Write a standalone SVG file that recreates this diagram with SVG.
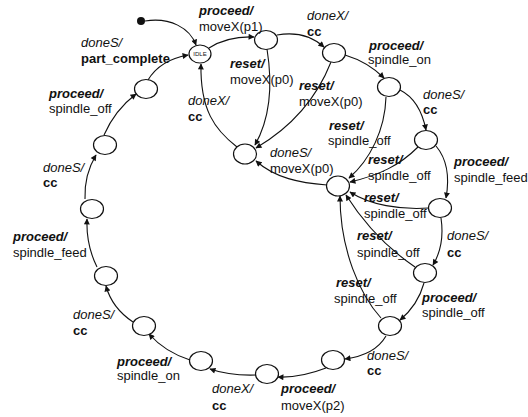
<svg xmlns="http://www.w3.org/2000/svg" width="528" height="417" viewBox="0 0 528 417">
<style>
.n{fill:#fff;stroke:#111;stroke-width:1.2}
.e{fill:none;stroke:#111;stroke-width:1.1;marker-end:url(#ah)}
text{font-family:"Liberation Sans",Arial,sans-serif;font-size:13px;fill:#111}
.bi{font-weight:bold;font-style:italic}
.i{font-style:italic}
.b{font-weight:bold}
.idle{font-size:6px;text-anchor:middle}
</style>
<defs>
<marker id="ah" viewBox="0 0 10 10" refX="9" refY="5" markerWidth="7" markerHeight="6" markerUnits="userSpaceOnUse" orient="auto">
<path d="M0,0 L10,5 L0,10 z" fill="#111"/>
</marker>
</defs>
<rect width="528" height="417" fill="#fff"/>
<g id="connectors">
<path class="e" d="M145 21 C170 17,190 28,196 45"/>
<path class="e" d="M209 48 Q228 36,254 37"/>
<path class="e" d="M277 35 Q305 30,324 47"/>
<path class="e" d="M345 55 Q368 62,384 78"/>
<path class="e" d="M400 90 Q420 100,426 130"/>
<path class="e" d="M436 146 Q452 165,446 198"/>
<path class="e" d="M441 218 Q445 245,433 265"/>
<path class="e" d="M424 283 Q418 305,400 320"/>
<path class="e" d="M386 336 Q375 355,345 359"/>
<path class="e" d="M326 368 Q300 378,278 377"/>
<path class="e" d="M257 375 Q230 376,210 369"/>
<path class="e" d="M190 360 Q165 352,149 334"/>
<path class="e" d="M133 322 Q112 308,106 286"/>
<path class="e" d="M97 267 Q86 245,87 219"/>
<path class="e" d="M85 199 Q84 175,96 155"/>
<path class="e" d="M104 135 Q115 110,136 94"/>
<path class="e" d="M148 80 Q160 60,188 55"/>
<path class="e" d="M267 49 C272 80,272 115,255 145"/>
<path class="e" d="M331 62 C318 95,295 125,256 148"/>
<path class="e" d="M237 147 C215 130,200 110,201 64"/>
<path class="e" d="M327 185 C300 183,275 178,256 161"/>
<path class="e" d="M386 97 C385 130,370 160,349 178"/>
<path class="e" d="M418 147 C400 165,380 175,350 182"/>
<path class="e" d="M429 208 C400 210,370 205,350 192"/>
<path class="e" d="M415 267 C390 250,365 225,346 195"/>
<path class="e" d="M381 318 C360 295,340 250,340 196"/>
</g>
<g id="init"><circle cx="141" cy="21" r="4" fill="#111"/></g>
<g id="IDLE"><ellipse class="n" cx="200" cy="54" rx="11" ry="9"/><text class="idle" x="200" y="56">IDLE</text></g>
<g id="A"><ellipse class="n" cx="266" cy="40" rx="11.5" ry="9.5"/></g>
<g id="B"><ellipse class="n" cx="334" cy="53" rx="11.5" ry="9.5"/></g>
<g id="C"><ellipse class="n" cx="389" cy="87" rx="11.5" ry="9.5"/></g>
<g id="D"><ellipse class="n" cx="426" cy="140" rx="11.5" ry="9.5"/></g>
<g id="E"><ellipse class="n" cx="440" cy="208" rx="11.5" ry="9.5"/></g>
<g id="F"><ellipse class="n" cx="425" cy="273" rx="11.5" ry="9.5"/></g>
<g id="G"><ellipse class="n" cx="390" cy="326" rx="11.5" ry="9.5"/></g>
<g id="H"><ellipse class="n" cx="333" cy="360" rx="11.5" ry="9.5"/></g>
<g id="I"><ellipse class="n" cx="267" cy="374" rx="11.5" ry="9.5"/></g>
<g id="J"><ellipse class="n" cx="201" cy="361" rx="11.5" ry="9.5"/></g>
<g id="K"><ellipse class="n" cx="144" cy="326" rx="11.5" ry="9.5"/></g>
<g id="L"><ellipse class="n" cx="106" cy="276" rx="11.5" ry="9.5"/></g>
<g id="M"><ellipse class="n" cx="92" cy="209" rx="11.5" ry="9.5"/></g>
<g id="N"><ellipse class="n" cx="105" cy="145" rx="11.5" ry="9.5"/></g>
<g id="O"><ellipse class="n" cx="146" cy="89" rx="11.5" ry="9.5"/></g>
<g id="P"><ellipse class="n" cx="245" cy="154" rx="11.5" ry="10"/></g>
<g id="Q"><ellipse class="n" cx="338" cy="186" rx="11.5" ry="10"/></g>
<g id="labels">
<text class="bi" x="199" y="15">proceed/</text><text x="199" y="31">moveX(p1)</text>
<text class="i" x="307" y="20">doneX/</text><text class="b" x="307" y="36">cc</text>
<text class="bi" x="369" y="50">proceed/</text><text x="368" y="64">spindle_on</text>
<text class="i" x="423" y="99">doneS/</text><text class="b" x="423" y="114">cc</text>
<text class="bi" x="454" y="166">proceed/</text><text x="454" y="182">spindle_feed</text>
<text class="i" x="447" y="240">doneS/</text><text class="b" x="447" y="257">cc</text>
<text class="bi" x="422" y="302">proceed/</text><text x="422" y="317">spindle_off</text>
<text class="i" x="367" y="360">doneS/</text><text class="b" x="367" y="375">cc</text>
<text class="bi" x="281" y="393">proceed/</text><text x="281" y="410">moveX(p2)</text>
<text class="i" x="212" y="393">doneX/</text><text class="b" x="212" y="410">cc</text>
<text class="bi" x="117" y="366">proceed/</text><text x="117" y="380">spindle_on</text>
<text class="i" x="73" y="319">doneS/</text><text class="b" x="73" y="335">cc</text>
<text class="bi" x="13" y="241">proceed/</text><text x="13" y="257">spindle_feed</text>
<text class="i" x="43" y="172">doneS/</text><text class="b" x="43" y="187">cc</text>
<text class="bi" x="49" y="98">proceed/</text><text x="49" y="113">spindle_off</text>
<text class="i" x="81" y="47">doneS/</text><text class="b" x="81" y="63">part_complete</text>
<text class="bi" x="230" y="68">reset/</text><text x="230" y="84">moveX(p0)</text>
<text class="bi" x="299" y="90">reset/</text><text x="299" y="106">moveX(p0)</text>
<text class="i" x="188" y="105">doneX/</text><text class="b" x="188" y="121">cc</text>
<text class="i" x="270" y="157">doneS/</text><text x="270" y="173">moveX(p0)</text>
<text class="bi" x="329" y="130">reset/</text><text x="328" y="145">spindle_off</text>
<text class="bi" x="368" y="164">reset/</text><text x="368" y="180">spindle_off</text>
<text class="bi" x="364" y="202">reset/</text><text x="364" y="218">spindle_off</text>
<text class="bi" x="357" y="240">reset/</text><text x="357" y="257">spindle_off</text>
<text class="bi" x="336" y="287">reset/</text><text x="334" y="303">spindle_off</text>
</g>
</svg>
